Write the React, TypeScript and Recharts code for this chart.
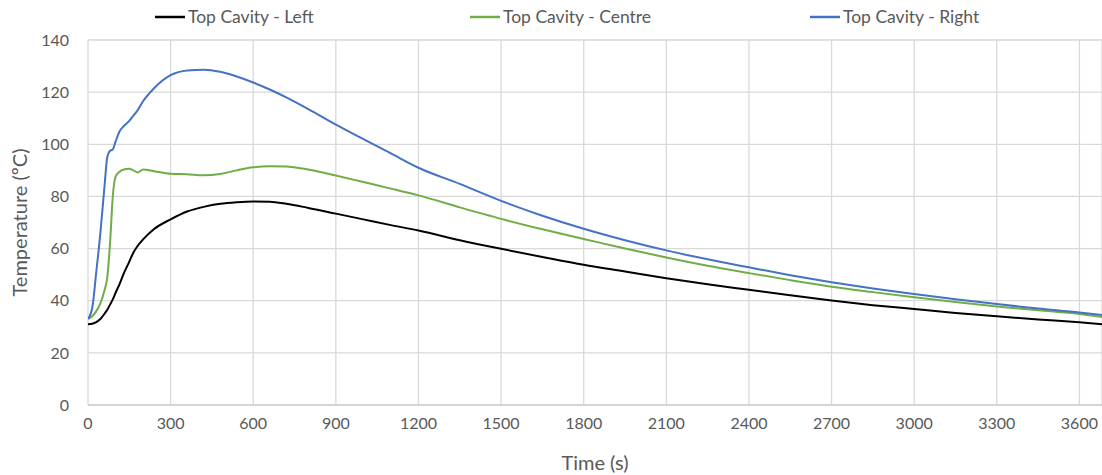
import React from "react";
import {
  CartesianGrid,
  Legend,
  Line,
  LineChart,
  XAxis,
  YAxis,
} from "recharts";

const times = [
  0, 15, 30, 45, 60, 70, 80, 90, 100, 115, 130, 150, 165, 180, 200, 240, 300,
  360, 420, 480, 540, 600, 660, 720, 800, 900, 1000, 1100, 1200, 1350, 1500,
  1650, 1800, 1950, 2100, 2250, 2400, 2550, 2700, 2850, 3000, 3150, 3300, 3450,
  3600, 3690,
];

const leftTemps = [
  31, 31.2, 31.8, 33, 35, 36.5, 38.5, 40.5, 43, 46.5, 50.5, 55, 58.5, 61, 63.5,
  67.5, 71.2, 74.2, 76, 77.2, 77.8, 78.1, 78, 77.2, 75.6, 73.4, 71.2, 69, 66.9,
  63.2, 59.9, 56.8, 53.8, 51.2, 48.6, 46.3, 44.2, 42.1, 40.1, 38.3, 36.8, 35.3,
  34, 32.8, 31.7, 30.9,
];

const centreTemps = [
  33, 34, 36, 39, 44, 49, 62, 80, 87.5, 89.5, 90.3, 90.6, 90, 89.2, 90.3, 89.7,
  88.7, 88.5, 88.1, 88.6, 90, 91.2, 91.6, 91.5, 90.3, 88, 85.5, 83, 80.4, 75.8,
  71.4, 67.4, 63.7, 60, 56.6, 53.4, 50.6, 47.9, 45.4, 43.3, 41.3, 39.5, 37.8,
  36.3, 34.9, 33.6,
];

const rightTemps = [
  33, 37, 51, 66, 84, 95, 97.5, 98, 101, 105, 107, 109, 111, 113, 116.5, 121.5,
  126.5, 128.3, 128.6, 127.8, 126, 123.7, 121, 118, 113.5, 107.5, 102, 96.5, 91,
  84.8, 78.3, 72.6, 67.6, 63.2, 59.3, 55.9, 52.8, 49.8, 47.1, 44.7, 42.6, 40.6,
  38.7, 37, 35.5, 34.4,
];

const xTicks = [0, 300, 600, 900, 1200, 1500, 1800, 2100, 2400, 2700, 3000, 3300, 3600];
const yTicks = [0, 20, 40, 60, 80, 100, 120, 140];

const seriesNames = ["Top Cavity - Left", "Top Cavity - Centre", "Top Cavity - Right"];
const seriesKeys = ["left", "centre", "right"];
const colors = ["#000000", "#70AD47", "#4472C4"];

const chartData = times.map((t, i) => ({
  t,
  left: leftTemps[i],
  centre: centreTemps[i],
  right: rightTemps[i],
}));

const font = "Lato, 'Liberation Sans', sans-serif";
// legend slot widths so the three entries start where the reference has them
const legendSlots = [315, 340, 250];

const LegendContent = () => {
  return (
    <div
      style={{
        display: "flex",
        paddingLeft: 155,
        fontFamily: font,
        fontSize: 17.5,
        color: "#595959",
      }}
    >
      {seriesNames.map((name, i) => (
        <div
          key={name}
          style={{ display: "flex", alignItems: "center", width: legendSlots[i] }}
        >
          <svg width={33} height={10}>
            <line x1={0} y1={5} x2={30} y2={5} stroke={colors[i]} strokeWidth={2.5} />
          </svg>
          <span>{name}</span>
        </div>
      ))}
    </div>
  );
};

export default function App() {
  return (
    <div style={{ position: "absolute", left: 0, top: 0, background: "#fff" }}>
      <LineChart
        width={1102}
        height={475}
        data={chartData}
        margin={{ top: 40, right: 0, bottom: 0, left: 0 }}
      >
        <CartesianGrid stroke="#d9d9d9" strokeWidth={1.3} />
        <XAxis
          dataKey="t"
          type="number"
          domain={[0, 3682]}
          ticks={xTicks}
          allowDataOverflow
          height={70}
          tickLine={false}
          tickSize={0}
          tickMargin={13}
          axisLine={{ stroke: "#d0d0d0", strokeWidth: 1.5 }}
          tick={{ fill: "#595959", fontSize: 16, fontFamily: font }}
          label={{
            value: "Time (s)",
            position: "insideBottom",
            offset: 5,
            fill: "#595959",
            fontSize: 20,
            fontFamily: font,
          }}
        />
        <YAxis
          type="number"
          domain={[0, 140]}
          ticks={yTicks}
          width={88}
          tickLine={false}
          tickSize={0}
          tickMargin={19}
          axisLine={false}
          tick={{ fill: "#595959", fontSize: 16, fontFamily: font }}
          label={{
            value: "Temperature (ºC)",
            angle: -90,
            position: "insideLeft",
            offset: 20,
            style: { textAnchor: "middle" },
            fill: "#595959",
            fontSize: 20,
            fontFamily: font,
          }}
        />
        <Legend
          verticalAlign="middle"
          layout="horizontal"
          wrapperStyle={{ top: 6, left: 0, width: 1102 }}
          content={<LegendContent />}
        />
        {seriesKeys.map((key, i) => (
          <Line
            key={key}
            name={seriesNames[i]}
            dataKey={key}
            type="monotone"
            stroke={colors[i]}
            strokeWidth={2}
            dot={false}
            isAnimationActive={false}
          />
        ))}
      </LineChart>
    </div>
  );
}
